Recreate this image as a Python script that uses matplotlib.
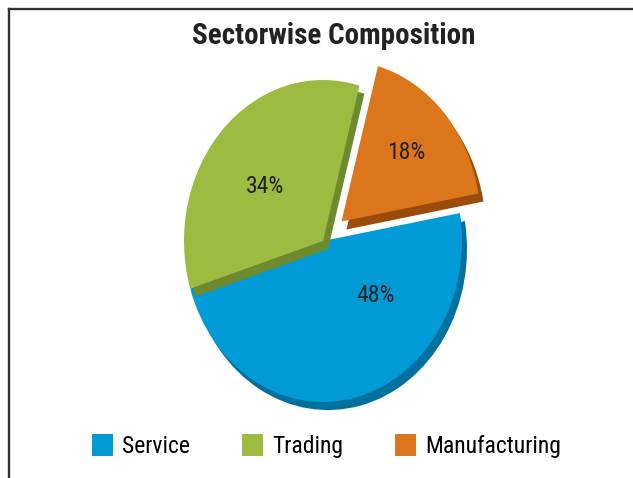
import matplotlib.pyplot as plt
from matplotlib.lines import Line2D

sectors = ['Service', 'Trading', 'Manufacturing']
shares = [48, 34, 18]
face_colors = ['#009ad6', '#9dbb41', '#db761c']
side_colors = ['#00709c', '#6e8a2f', '#9c4c0a']
explode = [0, 0, 0.18]

narrow = ['Roboto Condensed', 'Liberation Sans', 'DejaVu Sans']

fig = plt.figure(figsize=(6.33, 4.78), dpi=100)
ax = fig.add_axes([0, 0, 1, 1])

# darker copy shifted down-right gives the slices some thickness
side, _ = ax.pie(shares, explode=explode, colors=side_colors, startangle=10,
                 counterclock=False, center=(0.036, -0.05),
                 wedgeprops=dict(linewidth=0))
top, _, pct = ax.pie(shares, explode=explode, colors=face_colors, startangle=10,
                     counterclock=False, autopct=lambda p: f'{p:.0f}%',
                     pctdistance=0.55, wedgeprops=dict(linewidth=0),
                     textprops=dict(fontsize=17, color='#222222', family=narrow))

for i, (s, t) in enumerate(zip(side, top)):
    s.set_zorder(2 * i + 1)
    t.set_zorder(2 * i + 2)

label_pos = [(0.38, -0.34), (-0.42, 0.34), (0.60, 0.55)]
for txt, xy in zip(pct, label_pos):
    txt.set_position(xy)
    txt.set_zorder(10)

ax.set_aspect('auto')
ax.set_xlim(-323 / 139, 310 / 139)
ax.set_ylim(-237 / 161, 241 / 161)
ax.axis('off')

fig.text(333.5 / 633, 1 - 44 / 478, 'Sectorwise Composition', ha='center', va='baseline',
         fontsize=21, fontweight='bold', family=narrow, color='#222222')

fig.legend(top, sectors, loc='center left', bbox_to_anchor=(92 / 633, 1 - 446 / 478),
           ncol=3, frameon=False, borderpad=0, borderaxespad=0,
           handlelength=0.9, handleheight=1.1, handletextpad=0.38,
           columnspacing=2.2, prop=dict(family=narrow, size=17))

# frame along the top and left edge
fig.add_artist(Line2D([9 / 633, 1], [1 - 9 / 478] * 2, transform=fig.transFigure,
                      color='#333333', lw=1.7))
fig.add_artist(Line2D([9 / 633] * 2, [0, 1 - 9 / 478], transform=fig.transFigure,
                      color='#333333', lw=1.7))

fig.savefig('out.png', dpi=100)
